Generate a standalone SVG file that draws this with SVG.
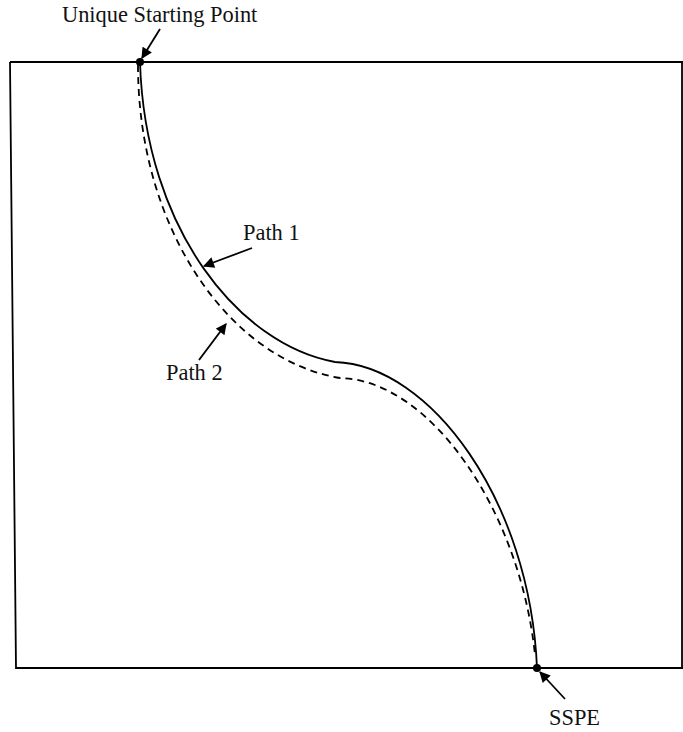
<svg xmlns="http://www.w3.org/2000/svg" width="683" height="732" viewBox="0 0 683 732">
<style>
.ln{fill:none;stroke:#000;stroke-width:1.8}
.dash{fill:none;stroke:#000;stroke-width:1.8;stroke-dasharray:7 5}
.lbl{font-family:"Liberation Serif","Times New Roman",serif;font-size:22.4px;fill:#111}
.dot{fill:#000}
</style>
<defs>
<marker id="ah" viewBox="0 0 10 10" refX="9" refY="5" markerWidth="12" markerHeight="11" markerUnits="userSpaceOnUse" orient="auto">
<path d="M0,0 L10,5 L0,10 z" fill="#000"/>
</marker>
</defs>
<rect width="683" height="732" fill="#fff"/>
<g id="frame">
<path class="ln" d="M10,62 L683,62 M10,62 L16,668 L683,668 M682,62 L682,668"/>
</g>
<g id="connectors">
<path id="path1" class="ln" d="M140,62 C145,230 240,345 335,362 C430,365 530,500 537,668"/>
<path id="path2" class="dash" d="M138,65 C138,230 230,360 340,378 C430,380 520,510 535,655"/>
<line class="ln" x1="160" y1="29" x2="142" y2="58" marker-end="url(#ah)"/>
<line class="ln" x1="252" y1="248" x2="204" y2="266" marker-end="url(#ah)"/>
<line class="ln" x1="199" y1="360" x2="226" y2="324" marker-end="url(#ah)"/>
<line class="ln" x1="565" y1="699" x2="540" y2="672" marker-end="url(#ah)"/>
</g>
<g id="start"><circle class="dot" cx="140" cy="62" r="4"/><text class="lbl" x="62" y="22">Unique Starting Point</text></g>
<g id="sspe"><circle class="dot" cx="537" cy="668" r="4"/><text class="lbl" x="549" y="725">SSPE</text></g>
<g id="label-path1"><text class="lbl" x="243" y="240">Path 1</text></g>
<g id="label-path2"><text class="lbl" x="166" y="380">Path 2</text></g>
</svg>
